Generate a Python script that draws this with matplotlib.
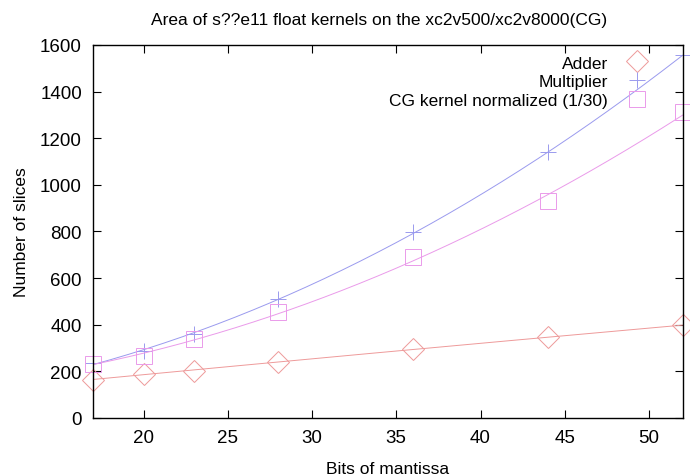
import numpy as np
import matplotlib.pyplot as plt

plt.rcParams['font.family'] = ['Liberation Sans', 'DejaVu Sans']

# data
bits = [17, 20, 23, 28, 36, 44, 52]
adder = [165, 189, 203, 240, 295, 347, 398]
multiplier = [236, 288, 360, 510, 796, 1140, 1555]
cg_kernel = [231, 267, 339, 453, 691, 929, 1311]

series = [
    ("Adder", adder, 'D', '#ee9a9a'),
    ("Multiplier", multiplier, '+', '#9a9aee'),
    ("CG kernel normalized (1/30)", cg_kernel, 's', '#ea9aea'),
]

fig = plt.figure(figsize=(6.9, 4.77), dpi=100)
ax = fig.add_axes([0.1348, 0.1216, 0.9894 - 0.1348, 0.9036 - 0.1216])

xs = np.linspace(17, 52, 200)
for name, vals, mk, col in series:
    # gnuplot-style fitted curve through the points
    coef = np.polyfit(bits, vals, 2)
    ax.plot(xs, np.polyval(coef, xs), color=col, lw=0.7)
    ax.plot(bits, vals, linestyle='none', marker=mk, markersize=11,
            markerfacecolor='none', markeredgecolor=col, markeredgewidth=0.7,
            label=name, clip_on=False)

ax.set_xlim(17, 52)
ax.set_ylim(0, 1600)
ax.set_xticks([20, 25, 30, 35, 40, 45, 50])
ax.set_yticks(range(0, 1601, 200))
ax.tick_params(direction='in', length=6, top=True, right=True, labelsize=13.5, pad=8)
for s in ax.spines.values():
    s.set_linewidth(1.0)

ax.set_title("Area of s??e11 float kernels on the xc2v500/xc2v8000(CG)",
             fontsize=12.5, pad=15, x=0.485)
ax.set_xlabel("Bits of mantissa", fontsize=12.5, labelpad=11)
ax.set_ylabel("Number of slices", fontsize=12.5, labelpad=8)

ax.legend(loc='upper right', frameon=False, markerfirst=False, fontsize=12.5,
          handlelength=2.2, handletextpad=0.6, labelspacing=0.2,
          borderaxespad=0.2, bbox_to_anchor=(0.973, 1.0))

fig.savefig("out.png", dpi=100)
